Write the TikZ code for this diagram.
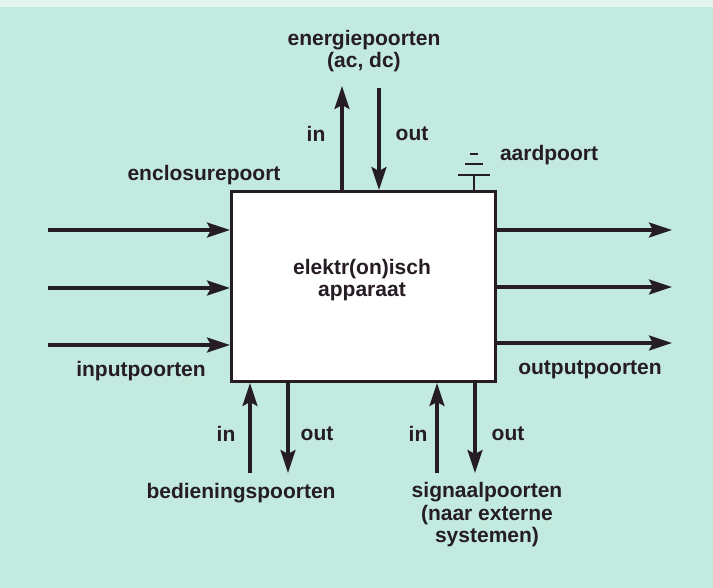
\documentclass[tikz,border=0pt]{standalone}
\usepackage{fontspec}
\setmainfont{Liberation Sans}
\usepackage{xcolor}
\definecolor{mint}{RGB}{194,234,222}
\definecolor{paper}{RGB}{228,244,238}
\definecolor{ink}{RGB}{38,28,36}
\usetikzlibrary{arrows.meta,positioning}

\begin{document}
\begin{tikzpicture}[x=1pt,y=-1pt,
        port/.style={-{Stealth[length=23pt,width=15pt,inset=4pt]}, line width=3.2pt, draw=ink},
        lbl/.style={font=\fontsize{21}{22.5}\selectfont\bfseries, text=ink, align=center, inner sep=0pt},
        aarde/.style={draw=ink, line width=2.6pt}
    ]
        % achtergrond
        \fill[mint] (0,0) rectangle (713,588);
        \fill[paper] (0,0) rectangle (713,7);
        \useasboundingbox (0,0) rectangle (713,588);

        % het apparaat zelf
        \node[draw=ink, line width=3pt, fill=white, minimum width=264pt, minimum height=190pt, anchor=north west] (apparaat) at (230,190) {};
        \node[lbl] (naam) at (362,280) {elektr(on)isch\\apparaat};

        % input- en outputpoorten
        \foreach \y [count=\i] in {230,288,345} {
            \coordinate (in\i) at (48,\y);
            \draw[port] (in\i) -- (apparaat.west |- in\i);
        }
        \foreach \y [count=\i] in {230,287,343} {
            \coordinate (uit\i) at (672,\y);
            \draw[port] (apparaat.east |- uit\i) -- (uit\i);
        }
        \node[lbl] (inputs) at (141,371) {inputpoorten};
        \node[lbl] (outputs) at (590,370) {outputpoorten};
        \node[lbl] (enclosure) at (204,175) {enclosurepoort};

        % energiepoorten
        \coordinate (eIn) at (342,86);
        \coordinate (eOut) at (379,88);
        \draw[port] (apparaat.north -| eIn) -- (eIn);
        \draw[port] (eOut) -- (apparaat.north -| eOut);
        \node[lbl] (energie) at (364,51) {energiepoorten\\(ac, dc)};
        \node[lbl] (eInTxt) at (316,134) {in};
        \node[lbl] (eOutTxt) at (412,134) {out};

        % aardpoort
        \coordinate (aard) at (474,175);
        \draw[aarde] (apparaat.north -| aard) -- (aard);
        \draw[aarde] ([shift={(-16,0)}]aard) -- ([shift={(16,0)}]aard);
        \draw[aarde] ([shift={(-9,-11)}]aard) -- ([shift={(9,-11)}]aard);
        \draw[aarde] ([shift={(-4,-21)}]aard) -- ([shift={(4,-21)}]aard);
        \node[lbl] (aardTxt) at (549,155) {aardpoort};

        % bedieningspoorten
        \coordinate (bIn) at (250,473);
        \coordinate (bOut) at (288,473);
        \draw[port] (bIn) -- (apparaat.south -| bIn);
        \draw[port] (apparaat.south -| bOut) -- (bOut);
        \node[lbl] (bInTxt) at (226,434) {in};
        \node[lbl] (bOutTxt) at (317,434) {out};
        \node[lbl] (bediening) at (241,493) {bedieningspoorten};

        % signaalpoorten
        \coordinate (sIn) at (437,473);
        \coordinate (sOut) at (475,473);
        \draw[port] (sIn) -- (apparaat.south -| sIn);
        \draw[port] (apparaat.south -| sOut) -- (sOut);
        \node[lbl] (sInTxt) at (418,434) {in};
        \node[lbl] (sOutTxt) at (508,434) {out};
        \node[lbl] (signaal) at (487,515) {signaalpoorten\\(naar externe\\systemen)};
    \end{tikzpicture}
\end{document}
